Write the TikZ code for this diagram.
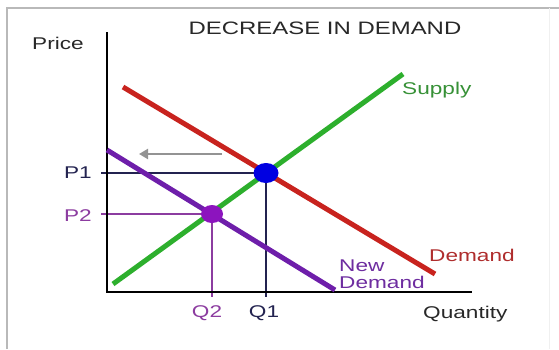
\documentclass[tikz,border=0pt]{standalone}
\usepackage{fontspec}
\setmainfont{Liberation Sans}
\usetikzlibrary{arrows.meta}
\definecolor{dred}{RGB}{200,35,30}
\definecolor{dredtxt}{RGB}{175,45,45}
\definecolor{sgreen}{RGB}{45,175,45}
\definecolor{sgreentxt}{RGB}{55,145,55}
\definecolor{npurple}{RGB}{110,30,170}
\definecolor{npurpletxt}{RGB}{110,45,160}
\definecolor{ptpurple}{RGB}{140,20,190}
\definecolor{lnpurple}{RGB}{140,60,160}
\definecolor{navy}{RGB}{35,35,80}
\definecolor{ptblue}{RGB}{0,0,225}
\definecolor{txtgray}{RGB}{40,40,40}
\newcommand{\hs}[1]{\scalebox{1.33}[1]{#1}}
\tikzset{
  lbl/.style={inner sep=0pt, font=\fontsize{17}{19}\selectfont},
  curve/.style={line width=5pt},
  guide/.style={line width=1.3pt},
  dot/.style={ellipse, inner sep=0pt, minimum width=#1},
}
\usetikzlibrary{shapes.geometric}
\begin{document}
\begin{tikzpicture}[x=1pt,y=-1pt]
\useasboundingbox (0,0) rectangle (559,349);
\fill[white] (0,0) rectangle (559,349);
% frame
\draw[gray!55, line width=1.3pt] (7,349) -- (7,8) -- (559,8);
\draw[gray!12, line width=1pt] (549,8) -- (549,349);
% coordinates
\coordinate (ytop) at (107,32);
\coordinate (org) at (107,292);
\coordinate (xend) at (472,292);
\coordinate (dA) at (123,87);
\coordinate (dB) at (435,274);
\coordinate (sA) at (113,284);
\coordinate (sB) at (403,74);
\coordinate (nA) at (107,150);
\coordinate (nB) at (335,290);
\coordinate (p1t) at (101,173);
\coordinate (p2t) at (101,214);
\coordinate (q1t) at (266,297);
\coordinate (q2t) at (212,297);
\coordinate (arA) at (222,154);
\coordinate (arB) at (139,154);
% guides
\draw[guide, navy] (p1t) -- (266,173) -- (q1t);
\draw[guide, lnpurple] (p2t) -- (212,214) -- (q2t);
% axes
\draw[line width=1.5pt, black] (ytop) -- (org) -- (xend);
% curves
\draw[curve, dred] (dA) -- (dB);
\draw[curve, sgreen] (sA) -- (sB);
\draw[curve, npurple] (nA) -- (nB);
% points
\node[dot=25pt, minimum height=20pt, fill=ptblue] (E1) at (266,173) {};
\node[dot=22pt, minimum height=18pt, fill=ptpurple] (E2) at (212,214) {};
% shift arrow
\draw[line width=2.5pt, gray!85, -{Triangle[length=9pt,width=10pt]}] (arA) -- (arB);
% labels
\node[lbl, txtgray, font=\fontsize{18}{20}\selectfont] (title) at (325,28) {\hs{DECREASE IN DEMAND}};
\node[lbl, txtgray, anchor=base west] (price) at (32,49) {\hs{Price}};
\node[lbl, sgreentxt, anchor=base west] (supply) at (402,94) {\hs{Supply}};
\node[lbl, dredtxt, anchor=base west] (demand) at (429,261) {\hs{Demand}};
\node[lbl, npurpletxt, anchor=base west] (new1) at (339,271) {\hs{New}};
\node[lbl, npurpletxt, anchor=base west] (new2) at (339,288) {\hs{Demand}};
\node[lbl, txtgray, anchor=base west] (qty) at (423,318) {\hs{Quantity}};
\node[lbl, navy, anchor=base east] (P1) at (92,178) {\hs{P1}};
\node[lbl, lnpurple, anchor=base east] (P2) at (92,221) {\hs{P2}};
\node[lbl, lnpurple, anchor=base] (Q2) at (207,317) {\hs{Q2}};
\node[lbl, navy, anchor=base] (Q1) at (264,317) {\hs{Q1}};
\end{tikzpicture}
\end{document}
